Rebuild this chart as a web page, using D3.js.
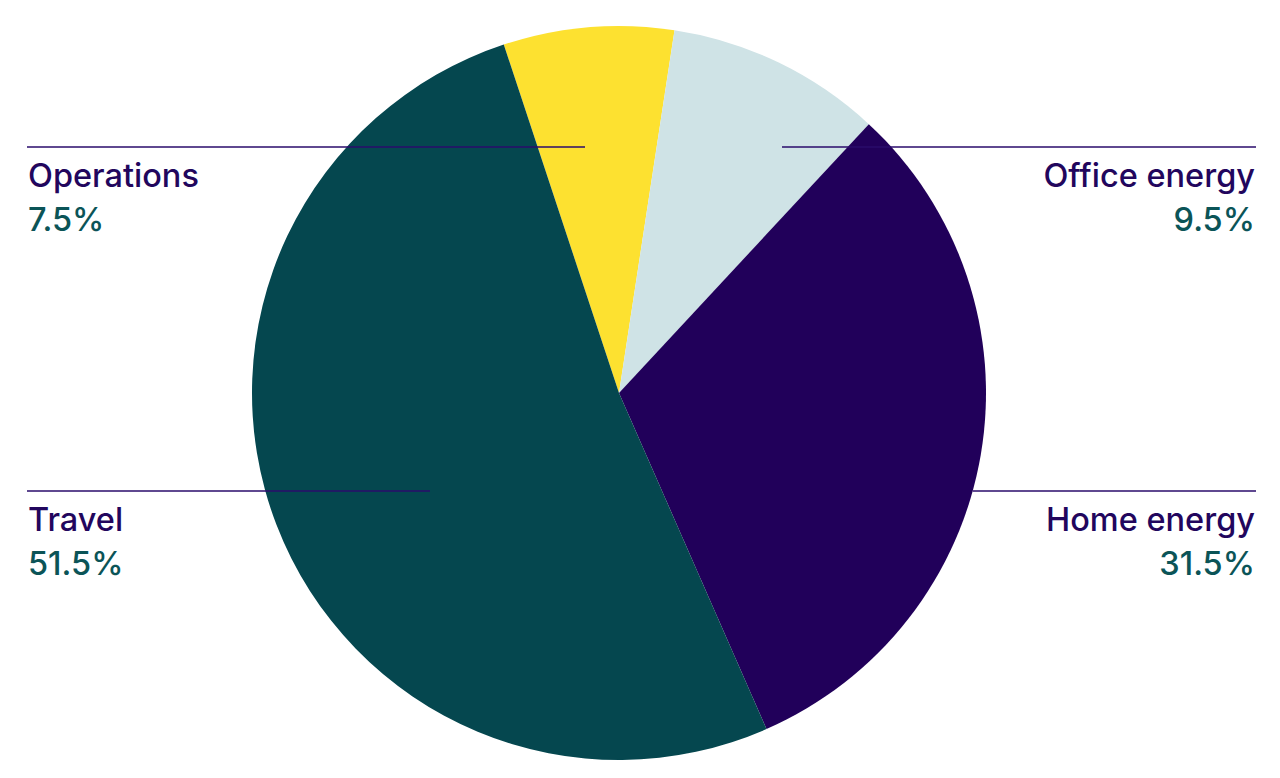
<!DOCTYPE html>
<html>
<head>
<meta charset="utf-8">
<script src="https://cdn.jsdelivr.net/npm/d3@7"></script>
<style>
  body { margin: 0; background: #ffffff; }
  .label { font-family: Inter, "Noto Sans", sans-serif; font-weight: 500; }
</style>
</head>
<body>
<script>
// chart data
var categories = ["Operations", "Office energy", "Home energy", "Travel"];
var shares = [7.5, 9.5, 31.5, 51.5];
var shareLabels = ["7.5%", "9.5%", "31.5%", "51.5%"];
var colors = ["#fde130", "#cfe3e6", "#21005a", "#05474f"];

var w = 1280, h = 778;
var cx = 619, cy = 393, radius = 367;
var startDeg = -18.3;                       // first slice starts a bit left of 12 o'clock

// label placement: which side, y of the leader line, and inner end of the line
// (innerX null = line stops at the pie's edge)
var labelLayout = [
    {side: "left",  lineY: 147, innerX: 585},
    {side: "right", lineY: 147, innerX: 782},
    {side: "right", lineY: 491, innerX: null},
    {side: "left",  lineY: 491, innerX: 430}
];

var svg = d3.select("body")
    .append("svg")
    .attr("width", w)
    .attr("height", h)
    .attr("class", "svg");

var pie = d3.pie()
    .sort(null)
    .startAngle(startDeg * Math.PI / 180)
    .endAngle(startDeg * Math.PI / 180 + 2 * Math.PI)
    .value(function(d){ return d; });

var arc = d3.arc()
    .innerRadius(0)
    .outerRadius(radius);

var slices = svg.append("g")
    .attr("class", "slices")
    .attr("transform", "translate(" + cx + "," + cy + ")")
    .selectAll(".slice")
    .data(pie(shares))
    .enter()
    .append("path")
    .attr("class", "slice")
    .attr("d", arc)
    .style("fill", function(d, i){ return colors[i]; });

var leftX = 27, rightX = 1256;

function innerEnd(d){
    if (d.innerX != null) return d.innerX;
    var dy = d.lineY - cy;
    var dx = Math.sqrt(radius * radius - dy * dy);
    return d.side == "left" ? cx - dx : cx + dx;
}

var lines = svg.selectAll(".leader")
    .data(labelLayout)
    .enter()
    .append("line")
    .attr("class", "leader")
    .attr("x1", function(d){ return d.side == "left" ? leftX : innerEnd(d); })
    .attr("x2", function(d){ return d.side == "left" ? innerEnd(d) : rightX; })
    .attr("y1", function(d){ return d.lineY; })
    .attr("y2", function(d){ return d.lineY; })
    .style("stroke", "#2a0b6b")
    .style("stroke-width", 1.6);

var labels = svg.selectAll(".label")
    .data(labelLayout)
    .enter()
    .append("text")
    .attr("class", "label")
    .attr("text-anchor", function(d){ return d.side == "left" ? "start" : "end"; })
    .style("font-size", "32.5px");

labels.append("tspan")
    .attr("class", "nameLine")
    .attr("x", function(d){ return d.side == "left" ? leftX + 1 : rightX - 1; })
    .attr("y", function(d){ return d.lineY + 40; })
    .style("fill", "#22065d")
    .text(function(d, i){ return categories[i]; });

labels.append("tspan")
    .attr("class", "popLine")
    .attr("x", function(d){ return d.side == "left" ? leftX + 1 : rightX - 1; })
    .attr("y", function(d){ return d.lineY + 84; })
    .style("fill", "#0b5457")
    .text(function(d, i){ return shareLabels[i]; });
</script>
</body>
</html>
